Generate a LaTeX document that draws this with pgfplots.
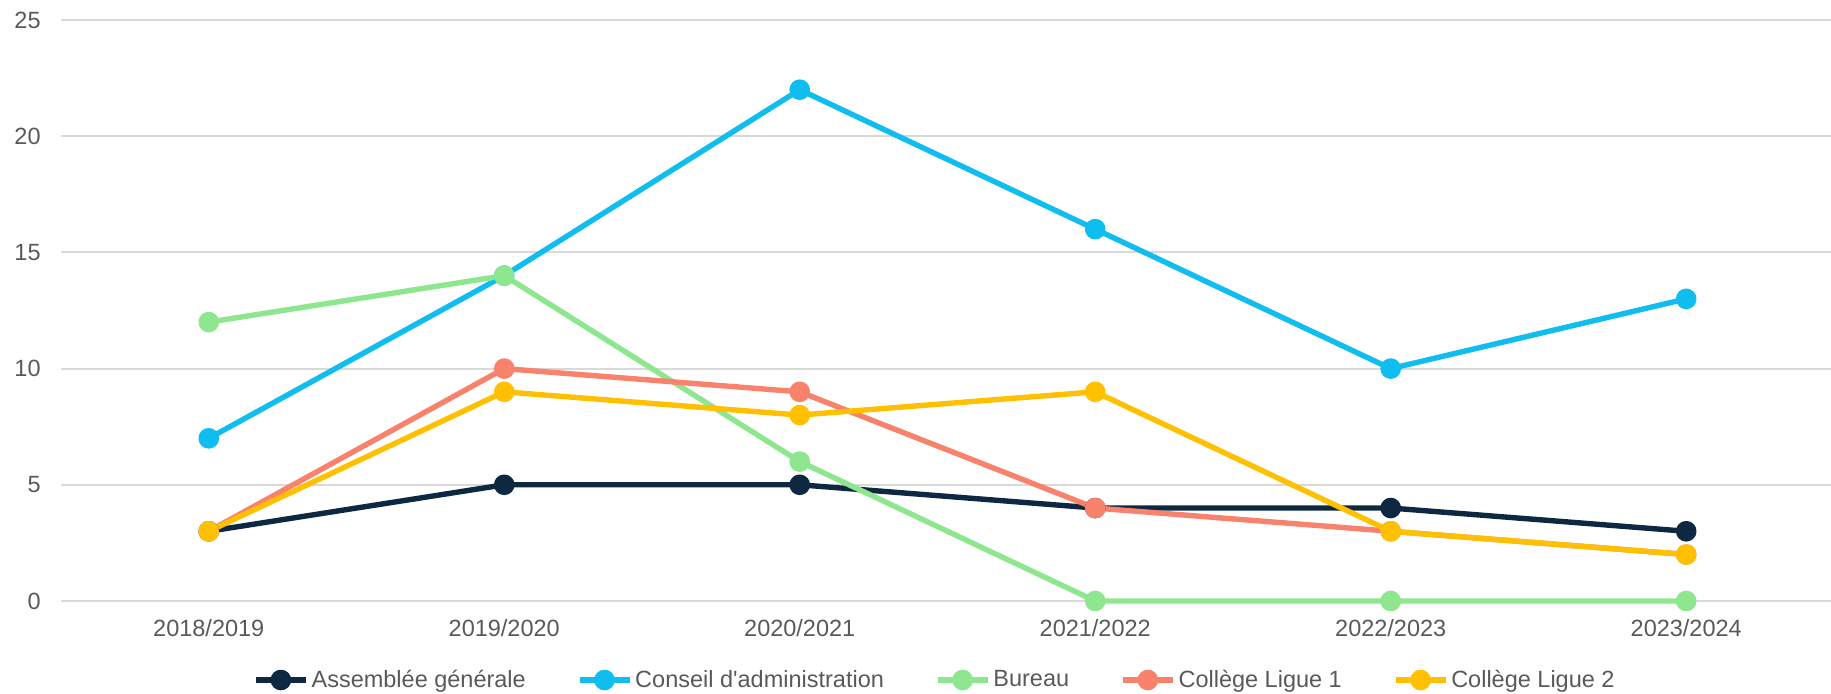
\documentclass[border=0pt]{standalone}
\usepackage{pgfplots}
\pgfplotsset{compat=1.18}
\usepackage{fontspec}
\setmainfont{Liberation Sans}
\definecolor{cNavy}{HTML}{0E2841}
\definecolor{cBlue}{HTML}{10BDEF}
\definecolor{cGreen}{HTML}{8EE68F}
\definecolor{cSalmon}{HTML}{F8826C}
\definecolor{cYellow}{HTML}{FFC000}
\definecolor{cText}{HTML}{595959}
\definecolor{cGrid}{HTML}{D9D9D9}
\begin{document}
\begin{tikzpicture}
\begin{axis}[
  at={(0,0)}, anchor=south west,
  scale only axis,
  width=885pt, height=290.5pt,
  xmin=-0.5, xmax=5.49,
  ymin=0, ymax=25,
  xtick={0,1,2,3,4,5},
  xticklabels={2018/2019,2019/2020,2020/2021,2021/2022,2022/2023,2023/2024},
  ytick={0,5,10,15,20,25},
  axis line style={draw=none},
  major tick length=0pt,
  ymajorgrids,
  grid style={cGrid, line width=1pt},
  /pgf/number format/assume math mode=true,
  tick label style={font=\fontsize{11.75}{14}\selectfont, text=cText},
  yticklabel style={anchor=east, inner sep=0pt, xshift=-10pt},
  xticklabel style={anchor=north, inner sep=0pt, yshift=-9pt},
  clip=false,
  every axis plot/.append style={line width=2.7pt, line join=round, mark=*, mark size=3.8pt, mark options={solid}},
  legend columns=5,
  legend style={draw=none, fill=none, at={(0.494,-0.136)}, anchor=center,
    font=\fontsize{11.75}{14}\selectfont, text=cText,
    /tikz/every even column/.append style={column sep=24pt},
    nodes={inner sep=1.5pt}},
  legend cell align=left,
  legend image code/.code={
    \draw[#1, mark repeat=2, mark phase=2] plot coordinates {(0pt,0pt) (12.5pt,0pt) (25pt,0pt)};
  },
]
\addplot[cNavy] coordinates {(0,3) (1,5) (2,5) (3,4) (4,4) (5,3)};
\addlegendentry{Assemblée générale}
\addplot[cBlue] coordinates {(0,7) (1,14) (2,22) (3,16) (4,10) (5,13)};
\addlegendentry{Conseil d\textquotesingle administration}
\addplot[cGreen] coordinates {(0,12) (1,14) (2,6) (3,0) (4,0) (5,0)};
\addlegendentry{Bureau}
\addplot[cSalmon] coordinates {(0,3) (1,10) (2,9) (3,4) (4,3) (5,2)};
\addlegendentry{Collège Ligue 1}
\addplot[cYellow] coordinates {(0,3) (1,9) (2,8) (3,9) (4,3) (5,2)};
\addlegendentry{Collège Ligue 2}
\end{axis}
\pgfresetboundingbox
\path[use as bounding box] (-30.5pt,-46.5pt) rectangle (885pt,300.5pt);
\end{tikzpicture}
\end{document}
